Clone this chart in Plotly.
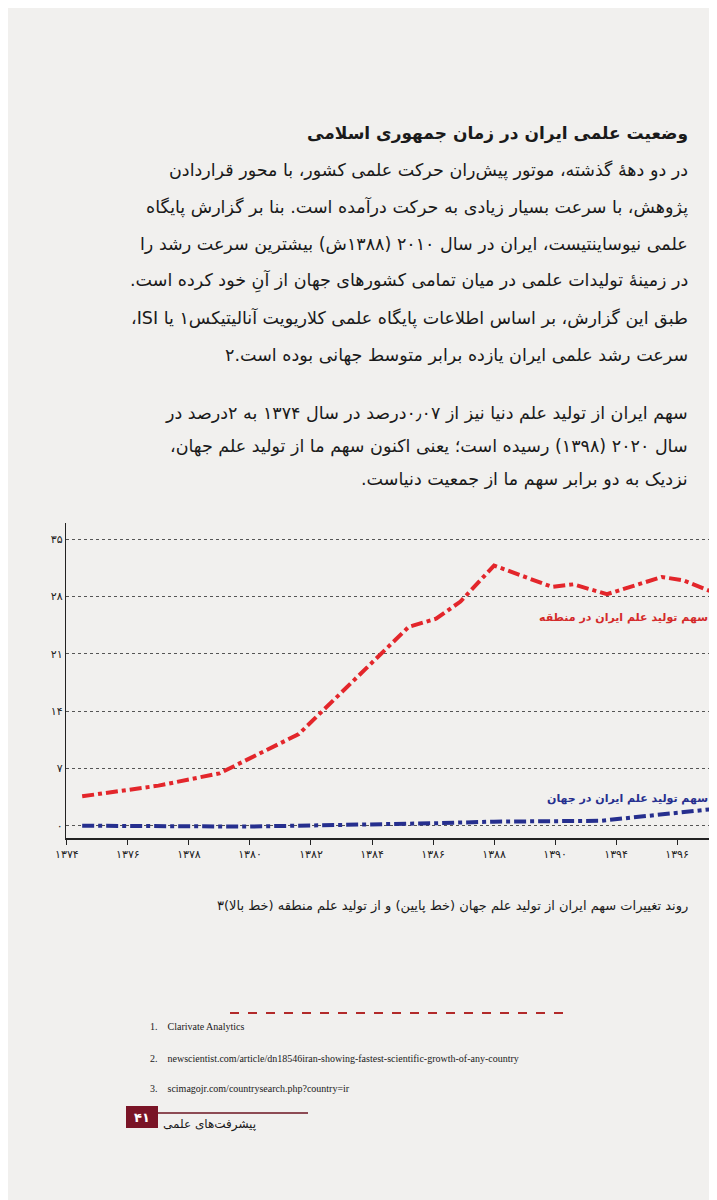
import plotly.graph_objects as go

# Data
region_years = [1374.5, 1377, 1379, 1381.6, 1385.2, 1386.1, 1386.9, 1388.0, 1389.9, 1390.6, 1391.7, 1393.5, 1394.2, 1395.6]
region_share = [3.6, 4.9, 6.4, 11.2, 24.3, 25.3, 27.4, 31.8, 29.2, 29.5, 28.3, 30.4, 30.0, 27.9]
world_years = [1374.5, 1380, 1386, 1388, 1391.5, 1392.5, 1395.6]
world_share = [0.0, -0.1, 0.3, 0.5, 0.6, 1.0, 2.2]
x_tickvals = [1374, 1376, 1378, 1380, 1382, 1384, 1386, 1388, 1390, 1392, 1394]
x_ticktext = ["۱۳۷۴", "۱۳۷۶", "۱۳۷۸", "۱۳۸۰", "۱۳۸۲", "۱۳۸۴", "۱۳۸۶", "۱۳۸۸", "۱۳۹۰", "۱۳۹۴", "۱۳۹۶"]
y_tickvals = [0, 7, 14, 21, 28, 35]
y_ticktext = ["۰", "۷", "۱۴", "۲۱", "۲۸", "۳۵"]

FONT = "DejaVu Sans"
fig = go.Figure()
fig.add_trace(go.Scatter(x=region_years, y=region_share, mode="lines",
                         line=dict(color="#e3262b", width=4, dash="dashdot")))
fig.add_trace(go.Scatter(x=world_years, y=world_share, mode="lines",
                         line=dict(color="#262f8e", width=4, dash="dashdot")))

W, H = 717, 1200
PL, PR, PT, PB = 58, 717, 515, 830
def px(x): return (x - PL) / (PR - PL)
def py(y): return (PB - y) / (PB - PT)
def pann(text, x, y, size=16, color="#1a1a1a", anchor="right", bold=False, family=FONT, rtl=True):
    if rtl:
        text = "\u202b" + text + "\u202c"
    if bold:
        text = "<b>" + text + "</b>"
    fig.add_annotation(text=text, x=px(x), y=py(y), xref="paper", yref="paper",
                       xanchor=anchor, yanchor="middle", showarrow=False,
                       font=dict(family=family, size=size, color=color))

pann("وضعیت علمی ایران در زمان جمهوری اسلامی", 682, 125, 17, bold=True)
lines1 = [
    "در دو دههٔ گذشته، موتور پیش‌ران حرکت علمی کشور، با محور قراردادن",
    "پژوهش، با سرعت بسیار زیادی به حرکت درآمده است. بنا بر گزارش پایگاه",
    "علمی نیوساینتیست، ایران در سال ۲۰۱۰ (۱۳۸۸ش) بیشترین سرعت رشد را",
    "در زمینهٔ تولیدات علمی در میان تمامی کشورهای جهان از آنِ خود کرده است.",
    "طبق این گزارش، بر اساس اطلاعات پایگاه علمی کلاریویت آنالیتیکس۱ یا ISI،",
    "سرعت رشد علمی ایران یازده برابر متوسط جهانی بوده است.۲",
]
for i, t in enumerate(lines1):
    pann(t, 682, 162 + i * 37, 17.5)
lines2 = [
    "سهم ایران از تولید علم دنیا نیز از ۰٫۰۷درصد در سال ۱۳۷۴ به ۲درصد در",
    "سال ۲۰۲۰ (۱۳۹۸) رسیده است؛ یعنی اکنون سهم ما از تولید علم جهان،",
    "نزدیک به دو برابر سهم ما از جمعیت دنیاست.",
]
for i, t in enumerate(lines2):
    pann(t, 682, 405 + i * 33, 17.5)

pann("سهم تولید علم ایران در منطقه", 702, 609, 11, color="#d42a2a", bold=True)
pann("سهم تولید علم ایران در جهان", 702, 790, 11, color="#262f8e", bold=True)
pann("روند تغییرات سهم ایران از تولید علم جهان (خط پایین) و از تولید علم منطقه (خط بالا)۳", 682, 898, 13)

pann("1.    Clarivate Analytics", 140, 1018, 10, anchor="left", family="Liberation Serif", rtl=False)
pann("2.    newscientist.com/article/dn18546iran-showing-fastest-scientific-growth-of-any-country", 140, 1050, 10, anchor="left", family="Liberation Serif", rtl=False)
pann("3.    scimagojr.com/countrysearch.php?country=ir", 140, 1080, 10, anchor="left", family="Liberation Serif", rtl=False)
pann("پیشرفت‌های علمی", 250, 1116, 12, anchor="right")

fig.add_shape(type="line", xref="paper", yref="paper", x0=px(222), x1=px(560), y0=py(1005), y1=py(1005),
              line=dict(color="#b22a2a", width=2, dash="dash"))
fig.add_shape(type="line", xref="paper", yref="paper", x0=px(150), x1=px(300), y0=py(1105), y1=py(1105),
              line=dict(color="#6b1420", width=1.5))
fig.add_shape(type="rect", xref="paper", yref="paper", x0=px(118), x1=px(150), y0=py(1120), y1=py(1098),
              fillcolor="#7a1426", line=dict(width=0))
pann("۴۱", 134, 1109, 13, color="white", anchor="center", bold=True, rtl=False)

fig.update_layout(
    width=W, height=H, showlegend=False,
    paper_bgcolor="#f1f0ee", plot_bgcolor="rgba(0,0,0,0)",
    margin=dict(l=PL, r=W - PR, t=PT, b=H - PB),
    xaxis=dict(range=[1373.97, 1395.57], tickvals=x_tickvals, ticktext=x_ticktext,
               showgrid=False, zeroline=False, showline=True, linecolor="#222", linewidth=1.5,
               ticks="outside", ticklen=5, tickcolor="#222",
               tickfont=dict(family=FONT, size=11, color="#222")),
    yaxis=dict(range=[-1.5, 37], tickvals=y_tickvals, ticktext=y_ticktext,
               showgrid=True, gridcolor="#555", griddash="dot", gridwidth=1,
               zeroline=False, showline=True, linecolor="#222", linewidth=1.2,
               ticks="", tickfont=dict(family=FONT, size=11, color="#222")),
)
fig.write_html("out.html")
